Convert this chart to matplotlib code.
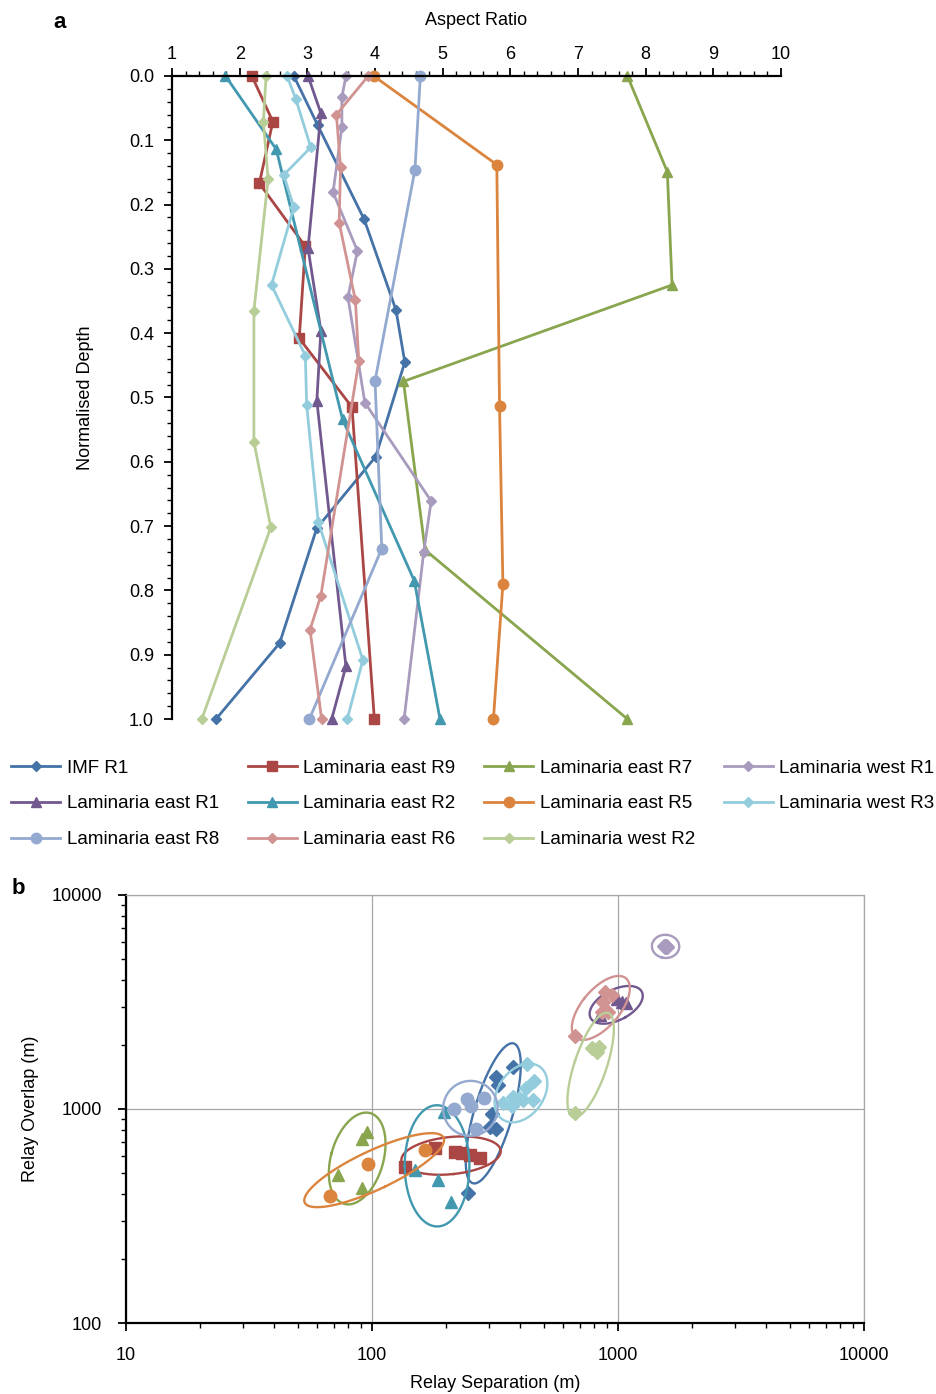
import numpy as np
import matplotlib
matplotlib.use("Agg")
import matplotlib.pyplot as plt
from matplotlib.ticker import MultipleLocator, FuncFormatter, NullFormatter

plt.rcParams['font.family'] = ['Liberation Sans', 'DejaVu Sans']

# ---- panel a : aspect ratio vs normalised depth ----
imf_r1_ar = [2.80, 3.15, 3.84, 4.31, 4.44, 4.01, 3.14, 2.59, 1.65]
imf_r1_d = [0.0, 0.076, 0.223, 0.364, 0.445, 0.592, 0.703, 0.882, 1.0]

le_r9_ar = [2.18, 2.49, 2.29, 2.97, 2.88, 3.66, 3.99]
le_r9_d = [0.0, 0.071, 0.167, 0.265, 0.408, 0.515, 1.0]

le_r7_ar = [7.73, 8.32, 8.39, 4.42, 4.74, 7.73]
le_r7_d = [0.0, 0.149, 0.325, 0.475, 0.737, 1.0]

lw_r1_ar = [3.57, 3.51, 3.51, 3.38, 3.74, 3.60, 3.85, 4.83, 4.72, 4.43]
lw_r1_d = [0.0, 0.033, 0.079, 0.181, 0.272, 0.344, 0.508, 0.661, 0.740, 1.0]

le_r1_ar = [3.01, 3.20, 3.01, 3.20, 3.14, 3.57, 3.36]
le_r1_d = [0.0, 0.058, 0.268, 0.396, 0.505, 0.918, 1.0]

le_r2_ar = [1.79, 2.54, 3.52, 4.58, 4.96]
le_r2_d = [0.0, 0.114, 0.534, 0.785, 1.0]

le_r5_ar = [3.98, 5.80, 5.84, 5.89, 5.75]
le_r5_d = [0.0, 0.138, 0.513, 0.790, 1.0]

lw_r3_ar = [2.70, 2.83, 3.05, 2.65, 2.80, 2.47, 2.97, 2.99, 3.16, 3.82, 3.59]
lw_r3_d = [0.0, 0.036, 0.111, 0.154, 0.204, 0.325, 0.435, 0.512, 0.693, 0.908, 1.0]

le_r8_ar = [4.67, 4.59, 4.00, 4.10, 3.03]
le_r8_d = [0.0, 0.146, 0.474, 0.735, 1.0]

le_r6_ar = [3.90, 3.43, 3.49, 3.47, 3.71, 3.76, 3.20, 3.04, 3.21]
le_r6_d = [0.0, 0.060, 0.142, 0.228, 0.349, 0.444, 0.808, 0.861, 1.0]

lw_r2_ar = [2.39, 2.35, 2.42, 2.21, 2.21, 2.46, 1.44]
lw_r2_d = [0.0, 0.071, 0.160, 0.365, 0.569, 0.702, 1.0]

# ---- panel b : relay separation vs overlap ----
imf_r1_sep = [373, 319, 326, 307, 302, 319, 246]
imf_r1_ov = [1566, 1406, 1295, 948, 821, 804, 404]

le_r9_sep = [136, 180, 217, 232, 250, 275]
le_r9_ov = [537, 655, 631, 620, 610, 589]

le_r7_sep = [95, 91, 73, 91]
le_r7_ov = [783, 721, 492, 428]

lw_r1_sep = [1540, 1570, 1555, 1580, 1560]
lw_r1_ov = [5780, 5800, 5700, 5720, 5750]

le_r1_sep = [1035, 1079, 845, 990]
le_r1_ov = [3173, 3119, 2748, 3250]

le_r2_sep = [197, 150, 185, 209]
le_r2_ov = [971, 519, 466, 369]

le_r5_sep = [67.5, 96, 164]
le_r5_ov = [392, 551, 643]

lw_r3_sep = [425, 456, 421, 373, 342, 370, 412, 450, 395]
lw_r3_ov = [1623, 1356, 1250, 1141, 1070, 1033, 1102, 1102, 1120]

le_r8_sep = [215, 244, 253, 285, 264]
le_r8_ov = [1000, 1110, 1033, 1122, 804]

le_r6_sep = [885, 943, 871, 859, 914, 668]
le_r6_ov = [3532, 3409, 3173, 2849, 2849, 2193]

lw_r2_sep = [781, 840, 819, 668]
lw_r2_ov = [1922, 1954, 1853, 955]

series = [
    ("IMF R1", "#4572A7", "D", 5.5, imf_r1_ar, imf_r1_d, imf_r1_sep, imf_r1_ov),
    ("Laminaria east R9", "#AA4643", "s", 7, le_r9_ar, le_r9_d, le_r9_sep, le_r9_ov),
    ("Laminaria east R7", "#89A54E", "^", 7.5, le_r7_ar, le_r7_d, le_r7_sep, le_r7_ov),
    ("Laminaria west R1", "#A99BBD", "D", 5.5, lw_r1_ar, lw_r1_d, lw_r1_sep, lw_r1_ov),
    ("Laminaria east R1", "#71588F", "^", 7.5, le_r1_ar, le_r1_d, le_r1_sep, le_r1_ov),
    ("Laminaria east R2", "#4198AF", "^", 7.5, le_r2_ar, le_r2_d, le_r2_sep, le_r2_ov),
    ("Laminaria east R5", "#DB843D", "o", 7.5, le_r5_ar, le_r5_d, le_r5_sep, le_r5_ov),
    ("Laminaria west R3", "#93CDDD", "D", 5.5, lw_r3_ar, lw_r3_d, lw_r3_sep, lw_r3_ov),
    ("Laminaria east R8", "#93A9CF", "o", 7.5, le_r8_ar, le_r8_d, le_r8_sep, le_r8_ov),
    ("Laminaria east R6", "#D19392", "D", 5.5, le_r6_ar, le_r6_d, le_r6_sep, le_r6_ov),
    ("Laminaria west R2", "#B9CD96", "D", 5.5, lw_r2_ar, lw_r2_d, lw_r2_sep, lw_r2_ov),
]

fig = plt.figure(figsize=(9.36, 13.94), dpi=100)

# panel a
ax1 = fig.add_axes([0.1838, 0.4842, 0.6506, 0.4613])
handles = {}
for name, col, mk, ms, ar, d, sep, ov in series:
    h, = ax1.plot(ar, d, color=col, marker=mk, markersize=ms, lw=2.0,
                  markeredgecolor=col, label=name, clip_on=False)
    handles[name] = h

ax1.set_xlim(1, 10)
ax1.set_ylim(1.0, 0.0)
ax1.xaxis.set_ticks_position('top')
ax1.xaxis.set_label_position('top')
ax1.xaxis.set_major_locator(MultipleLocator(1))
ax1.xaxis.set_minor_locator(MultipleLocator(0.2))
ax1.yaxis.set_major_locator(MultipleLocator(0.1))
ax1.yaxis.set_minor_locator(MultipleLocator(0.02))
ax1.yaxis.set_major_formatter(FuncFormatter(lambda v, p: f"{v:.1f}"))
for s in ['right', 'bottom']:
    ax1.spines[s].set_visible(False)
for s in ['top', 'left']:
    ax1.spines[s].set_linewidth(1.6)
ax1.tick_params(which='major', direction='out', length=6, width=1.3, labelsize=13)
ax1.tick_params(axis='y', which='major', pad=7)
ax1.tick_params(which='minor', direction='out', length=3.5, width=1.0)
ax1.set_xlabel("Aspect Ratio", fontsize=13, labelpad=15)
ax1.set_ylabel("Normalised Depth", fontsize=13, labelpad=25)
fig.text(60 / 936, 1 - 22 / 1394, "a", fontsize=16, fontweight='bold', ha='center', va='center')

# legend filled column by column to reproduce row order of the reference
order = ["IMF R1", "Laminaria east R1", "Laminaria east R8",
         "Laminaria east R9", "Laminaria east R2", "Laminaria east R6",
         "Laminaria east R7", "Laminaria east R5", "Laminaria west R2",
         "Laminaria west R1", "Laminaria west R3"]
fig.legend([handles[n] for n in order], order, ncol=4, loc='upper left',
           bbox_to_anchor=(0.004, 1 - 752 / 1394), frameon=False, fontsize=13.5,
           handlelength=2.6, handletextpad=0.35, columnspacing=1.55,
           labelspacing=1.0, borderaxespad=0)

# panel b
ax2 = fig.add_axes([0.1346, 0.0509, 0.7885, 0.3071])
t = np.linspace(0, 2 * np.pi, 200)
for name, col, mk, ms, ar, d, sep, ov in series:
    ax2.plot(sep, ov, linestyle='none', marker=mk, markersize=ms + 1.5, color=col,
             markeredgecolor=col)
    # ellipse round each relay cluster, from the points' spread in log space
    lx, ly = np.log10(sep), np.log10(ov)
    c = np.cov(np.vstack([lx, ly]), ddof=0)
    vals, vecs = np.linalg.eigh(c)
    r = 1.5 * np.sqrt(np.clip(vals, 0, None)) + 0.05
    pts = vecs @ np.vstack([r[0] * np.cos(t), r[1] * np.sin(t)])
    ax2.plot(10 ** (lx.mean() + pts[0]), 10 ** (ly.mean() + pts[1]), color=col, lw=1.7)

ax2.set_xscale('log')
ax2.set_yscale('log')
ax2.set_xlim(10, 10000)
ax2.set_ylim(100, 10000)
ax2.xaxis.set_major_formatter(FuncFormatter(lambda v, p: f"{int(round(v))}"))
ax2.yaxis.set_major_formatter(FuncFormatter(lambda v, p: f"{int(round(v))}"))
ax2.xaxis.set_minor_formatter(NullFormatter())
ax2.yaxis.set_minor_formatter(NullFormatter())
ax2.grid(True, which='major', color='#A6A6A6', lw=0.9)
ax2.set_axisbelow(True)
for s in ['left', 'bottom']:
    ax2.spines[s].set_linewidth(1.6)
for s in ['top', 'right']:
    ax2.spines[s].set_color('#A6A6A6')
    ax2.spines[s].set_linewidth(0.9)
ax2.tick_params(which='major', direction='out', length=6, width=1.3, labelsize=13, pad=11)
ax2.tick_params(which='minor', direction='out', length=3.5, width=1.0)
ax2.tick_params(top=False, right=False, which='both')
ax2.set_xlabel("Relay Separation (m)", fontsize=13, labelpad=8)
ax2.set_ylabel("Relay Overlap (m)", fontsize=13, labelpad=9)
fig.text(18 / 936, 1 - 888 / 1394, "b", fontsize=16, fontweight='bold', ha='center', va='center')

fig.savefig("out.png", dpi=100)
